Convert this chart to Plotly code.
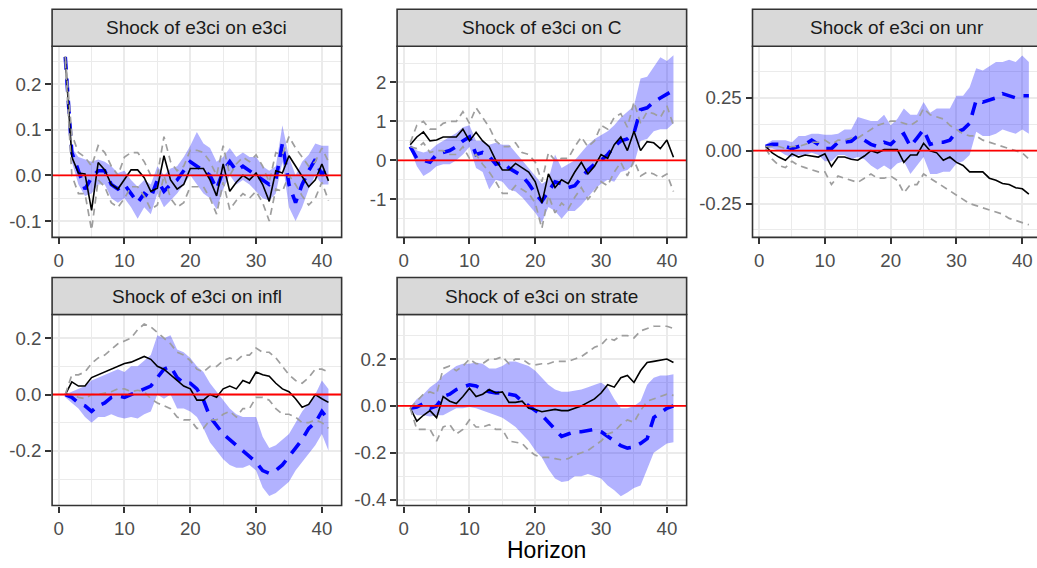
import plotly.graph_objects as go

W, H = 1037, 568
horizon = list(range(1, 42))

titles = ["Shock of e3ci on e3ci", "Shock of e3ci on C", "Shock of e3ci on unr",
          "Shock of e3ci on infl", "Shock of e3ci on strate"]

# ---- panel 1 : e3ci ----
e3ci_point = [0.26,0.04,0.005,0.003,-0.077,0.028,0.012,-0.02,-0.03,-0.01,0.012,0.012,-0.005,-0.035,-0.028,0.043,-0.01,-0.03,-0.02,0.015,0.015,0.015,-0.01,-0.045,0.025,-0.035,-0.015,0.0,-0.01,0.005,-0.02,-0.057,0.01,0.005,0.043,0.02,-0.003,-0.025,-0.01,0.025,-0.012]
e3ci_mean = [0.26,0.05,0.01,-0.03,-0.005,0.01,0.01,-0.02,-0.03,-0.02,-0.04,-0.06,-0.04,-0.05,-0.01,-0.035,-0.02,-0.01,0.01,0.03,0.02,0.01,0.0,-0.03,0.01,0.03,0.01,0.02,0.01,0.0,-0.01,-0.02,-0.01,0.07,-0.02,-0.06,-0.02,0.01,0.035,0.0,0.025]
e3ci_hi = [0.26,0.06,0.04,0.035,0.03,0.035,0.03,0.02,0.005,0.01,-0.01,-0.025,-0.01,-0.02,0.02,0.0,0.015,0.02,0.04,0.065,0.095,0.07,0.06,0.03,0.04,0.06,0.04,0.05,0.04,0.04,0.02,0.01,0.02,0.11,0.04,0.0,0.03,0.045,0.07,0.065,0.065]
e3ci_lo = [0.25,0.03,-0.02,-0.045,-0.04,-0.02,-0.02,-0.05,-0.06,-0.05,-0.07,-0.095,-0.07,-0.085,-0.04,-0.07,-0.055,-0.04,-0.02,0.0,-0.02,-0.04,-0.05,-0.075,-0.03,0.0,-0.02,-0.01,-0.02,-0.035,-0.05,-0.055,-0.04,0.03,-0.07,-0.1,-0.07,-0.03,0.0,-0.02,-0.02]
e3ci_ghi = [0.26,0.09,0.05,0.04,0.02,0.065,0.05,0.02,0.0,0.04,0.05,0.05,0.03,0.0,0.0,0.085,0.03,0.01,0.02,0.055,0.055,0.05,0.03,0.0,0.065,0.0,0.025,0.04,0.03,0.045,0.02,-0.015,0.05,0.045,0.085,0.06,0.04,0.02,0.03,0.06,0.03]
e3ci_glo = [0.25,0.0,-0.04,-0.04,-0.12,-0.01,-0.025,-0.06,-0.07,-0.05,-0.025,-0.025,-0.045,-0.075,-0.065,0.0,-0.05,-0.07,-0.06,-0.025,-0.025,-0.025,-0.05,-0.085,-0.015,-0.075,-0.055,-0.04,-0.05,-0.035,-0.06,-0.1,-0.03,-0.035,0.0,-0.02,-0.045,-0.065,-0.05,-0.015,-0.055]

# ---- panel 2 : C ----
C_point = [0.4,0.6,0.73,0.5,0.52,0.6,0.6,0.6,0.8,0.5,0.72,0.5,0.35,0.0,-0.25,-0.25,-0.08,-0.2,-0.3,-0.55,-1.1,-0.35,-0.7,-0.5,-0.6,-0.3,-0.05,-0.35,-0.15,0.15,0.05,0.4,0.6,0.25,0.75,0.25,0.48,0.45,0.3,0.52,0.08]
C_mean = [0.35,0.05,0.0,-0.05,0.15,0.2,0.25,0.35,0.5,0.6,0.15,0.2,0.1,-0.1,-0.05,-0.2,-0.3,-0.4,-0.6,-0.85,-1.05,-0.8,-0.55,-0.6,-0.7,-0.65,-0.45,-0.25,-0.1,0.0,0.15,0.35,0.5,0.55,0.7,1.3,1.35,1.5,1.6,1.7,1.8]
C_hi = [0.4,0.25,0.2,0.25,0.4,0.5,0.6,0.7,0.85,0.9,0.5,0.5,0.4,0.45,0.4,0.4,0.2,0.0,-0.2,-0.4,-0.6,-0.5,0.15,-0.2,-0.1,0.0,0.2,0.4,0.55,0.65,0.75,0.9,1.1,1.25,1.4,2.1,2.15,2.4,2.65,2.55,2.7]
C_lo = [0.3,-0.15,-0.4,-0.3,-0.15,-0.1,-0.1,0.0,0.15,0.35,-0.2,-0.3,-0.75,-0.5,-0.55,-0.75,-0.8,-0.95,-1.15,-1.35,-1.6,-1.2,-1.3,-1.5,-1.3,-1.3,-1.15,-0.95,-0.75,-0.6,-0.5,-0.55,-0.3,-0.25,-0.1,0.5,0.55,0.75,0.8,0.8,0.95]
C_ghi = [0.45,0.9,1.0,0.8,0.8,0.95,1.0,1.0,1.25,0.95,1.35,1.1,0.85,0.5,0.35,0.35,0.45,0.2,0.15,-0.05,-0.55,0.2,0.0,0.05,0.05,0.35,0.6,0.35,0.5,0.9,0.8,1.1,1.2,0.85,1.5,0.95,1.25,1.2,1.1,1.4,0.9]
C_glo = [0.35,0.3,0.45,0.2,0.25,0.25,0.15,0.15,0.35,0.05,0.15,-0.1,-0.3,-0.55,-0.85,-0.85,-0.65,-0.75,-0.85,-1.1,-1.75,-0.9,-1.35,-1.1,-1.25,-0.95,-0.7,-1.0,-0.8,-0.55,-0.65,-0.3,-0.05,-0.4,0.0,-0.4,-0.3,-0.35,-0.45,-0.35,-0.8]

# ---- panel 3 : unr ----
unr_point = [0.02,-0.01,-0.03,-0.045,-0.015,-0.03,-0.02,-0.025,-0.03,-0.015,-0.075,-0.03,-0.03,-0.04,-0.045,-0.025,0.0,-0.01,0.005,0.005,0.005,-0.055,-0.02,-0.02,0.035,0.0,-0.01,-0.045,-0.03,-0.055,-0.07,-0.1,-0.1,-0.1,-0.13,-0.14,-0.155,-0.16,-0.175,-0.18,-0.205]
unr_mean = [0.02,0.03,0.03,0.02,0.01,0.02,0.03,0.05,0.03,0.01,0.01,0.04,0.04,0.045,0.07,0.05,0.03,0.02,0.04,0.03,0.06,0.08,0.02,0.06,0.1,0.03,0.04,0.04,0.05,0.09,0.1,0.13,0.24,0.23,0.24,0.25,0.27,0.26,0.25,0.26,0.26]
unr_hi = [0.03,0.05,0.05,0.05,0.04,0.07,0.07,0.08,0.08,0.075,0.075,0.08,0.1,0.1,0.16,0.15,0.14,0.14,0.17,0.12,0.15,0.2,0.17,0.17,0.23,0.18,0.2,0.2,0.2,0.26,0.26,0.3,0.39,0.38,0.4,0.42,0.42,0.43,0.42,0.45,0.42]
unr_lo = [0.01,0.01,0.0,-0.02,-0.03,-0.02,-0.02,-0.01,-0.02,-0.05,-0.05,-0.02,-0.02,-0.04,-0.03,-0.04,-0.07,-0.09,-0.07,-0.09,-0.06,-0.05,-0.11,-0.07,-0.03,-0.11,-0.11,-0.1,-0.1,-0.06,-0.05,-0.02,0.09,0.07,0.07,0.08,0.1,0.09,0.08,0.1,0.08]
unr_ghi = [0.02,0.02,0.02,0.01,0.02,0.02,0.03,0.04,0.04,0.05,0.03,0.05,0.05,0.06,0.06,0.08,0.1,0.12,0.13,0.14,0.14,0.13,0.12,0.14,0.2,0.17,0.16,0.15,0.12,0.1,0.08,0.07,0.07,0.05,0.04,0.03,0.02,0.01,0.0,-0.01,-0.04]
unr_glo = [0.01,-0.04,-0.07,-0.08,-0.05,-0.07,-0.08,-0.09,-0.1,-0.1,-0.16,-0.12,-0.13,-0.14,-0.15,-0.13,-0.11,-0.13,-0.13,-0.12,-0.14,-0.2,-0.16,-0.16,-0.11,-0.13,-0.15,-0.17,-0.19,-0.21,-0.23,-0.25,-0.26,-0.27,-0.28,-0.29,-0.3,-0.32,-0.33,-0.34,-0.35]

# ---- panel 4 : infl ----
infl_point = [0.0,0.045,0.03,0.03,0.06,0.07,0.08,0.09,0.1,0.11,0.115,0.125,0.135,0.125,0.1,0.09,0.07,0.05,0.03,0.02,-0.02,-0.02,0.0,-0.01,0.02,0.03,0.02,0.05,0.04,0.08,0.07,0.065,0.04,0.02,0.01,-0.015,-0.045,-0.035,0.0,-0.015,-0.028]
infl_mean = [0.0,-0.01,-0.03,-0.04,-0.06,-0.04,-0.03,-0.01,-0.005,-0.01,0.0,0.01,0.02,0.03,0.06,0.09,0.1,0.06,0.04,0.04,0.02,-0.02,-0.08,-0.11,-0.14,-0.16,-0.18,-0.2,-0.22,-0.24,-0.27,-0.28,-0.27,-0.25,-0.22,-0.19,-0.16,-0.12,-0.1,-0.06,-0.09]
infl_hi = [0.0,0.01,0.02,0.03,0.05,0.06,0.07,0.08,0.09,0.08,0.1,0.1,0.12,0.14,0.21,0.2,0.21,0.16,0.15,0.13,0.1,0.08,0.04,0.01,-0.02,-0.05,-0.07,-0.08,-0.08,-0.08,-0.15,-0.19,-0.18,-0.16,-0.14,-0.1,-0.06,-0.03,0.0,0.05,0.02]
infl_lo = [-0.01,-0.03,-0.05,-0.08,-0.1,-0.08,-0.08,-0.07,-0.08,-0.085,-0.08,-0.085,-0.07,-0.06,0.0,-0.015,0.0,-0.05,-0.05,-0.06,-0.08,-0.12,-0.17,-0.2,-0.23,-0.25,-0.26,-0.26,-0.25,-0.27,-0.33,-0.36,-0.35,-0.33,-0.31,-0.27,-0.24,-0.21,-0.18,-0.14,-0.2]
infl_ghi = [0.0,0.07,0.07,0.08,0.11,0.13,0.14,0.16,0.18,0.19,0.2,0.23,0.25,0.24,0.22,0.2,0.18,0.15,0.14,0.12,0.09,0.08,0.1,0.1,0.12,0.13,0.12,0.14,0.14,0.165,0.15,0.15,0.13,0.1,0.07,0.05,0.04,0.06,0.09,0.09,0.08]
infl_glo = [0.0,0.0,-0.01,-0.015,0.0,0.0,0.005,0.01,0.02,0.02,0.01,0.015,0.01,-0.015,-0.03,-0.04,-0.05,-0.08,-0.09,-0.09,-0.12,-0.12,-0.09,-0.09,-0.07,-0.06,-0.08,-0.05,-0.05,-0.01,-0.01,-0.02,-0.05,-0.07,-0.07,-0.08,-0.1,-0.1,-0.09,-0.1,-0.12]

# ---- panel 5 : strate ----
strate_point = [-0.01,-0.065,-0.04,-0.02,-0.05,0.04,0.02,0.01,0.04,0.075,0.04,0.05,0.07,0.055,0.06,0.015,0.015,0.02,-0.01,-0.015,-0.025,-0.02,-0.015,-0.02,-0.02,-0.01,0.0,0.015,0.03,0.055,0.09,0.08,0.12,0.13,0.1,0.15,0.185,0.19,0.195,0.2,0.185]
strate_mean = [-0.01,-0.005,0.01,-0.01,0.0,0.04,0.05,0.07,0.08,0.09,0.085,0.07,0.06,0.055,0.055,0.05,0.045,0.02,0.0,-0.02,-0.04,-0.07,-0.1,-0.13,-0.12,-0.11,-0.11,-0.105,-0.1,-0.11,-0.13,-0.15,-0.17,-0.18,-0.175,-0.16,-0.14,-0.05,-0.03,-0.01,0.0]
strate_hi = [-0.005,0.03,0.05,0.08,0.1,0.13,0.15,0.17,0.18,0.18,0.185,0.18,0.16,0.16,0.17,0.19,0.19,0.18,0.17,0.15,0.12,0.09,0.07,0.06,0.06,0.065,0.07,0.08,0.09,0.1,0.08,0.03,-0.01,-0.01,0.0,0.02,0.09,0.12,0.13,0.13,0.135]
strate_lo = [-0.02,-0.04,-0.04,-0.045,-0.04,-0.04,-0.025,-0.01,-0.01,-0.005,-0.01,-0.02,-0.03,-0.04,-0.05,-0.07,-0.09,-0.12,-0.15,-0.19,-0.22,-0.27,-0.31,-0.325,-0.32,-0.3,-0.3,-0.29,-0.3,-0.31,-0.34,-0.36,-0.385,-0.37,-0.35,-0.34,-0.27,-0.2,-0.18,-0.16,-0.155]
strate_ghi = [-0.01,0.02,0.05,0.06,0.05,0.16,0.17,0.15,0.17,0.2,0.18,0.18,0.2,0.2,0.21,0.18,0.2,0.2,0.18,0.175,0.18,0.18,0.19,0.19,0.19,0.2,0.21,0.23,0.25,0.26,0.29,0.28,0.3,0.3,0.29,0.32,0.33,0.34,0.34,0.34,0.33]
strate_glo = [-0.01,-0.1,-0.1,-0.1,-0.15,-0.09,-0.08,-0.12,-0.1,-0.06,-0.09,-0.09,-0.08,-0.1,-0.1,-0.15,-0.155,-0.16,-0.19,-0.21,-0.22,-0.22,-0.225,-0.23,-0.225,-0.21,-0.2,-0.19,-0.17,-0.15,-0.12,-0.11,-0.08,-0.06,-0.07,-0.02,0.02,0.03,0.04,0.05,0.045]

# tick labels
x_tickvals = [0, 10, 20, 30, 40]
x_ticktext = ["0", "10", "20", "30", "40"]
x_minor = [5, 15, 25, 35]
y_ticks = [
    ([-0.1, 0.0, 0.1, 0.2], ["-0.1", "0.0", "0.1", "0.2"], [-0.05, 0.05, 0.15, 0.25]),
    ([-1, 0, 1, 2], ["-1", "0", "1", "2"], [-1.5, -0.5, 0.5, 1.5, 2.5]),
    ([-0.25, 0.0, 0.25], ["-0.25", "0.00", "0.25"], [-0.375, -0.125, 0.125, 0.375]),
    ([-0.2, 0.0, 0.2], ["-0.2", "0.0", "0.2"], [-0.3, -0.1, 0.1]),
    ([-0.4, -0.2, 0.0, 0.2], ["-0.4", "-0.2", "0.0", "0.2"], [-0.3, -0.1, 0.1, 0.3]),
]

panels = [
    (e3ci_point, e3ci_mean, e3ci_lo, e3ci_hi, e3ci_glo, e3ci_ghi),
    (C_point, C_mean, C_lo, C_hi, C_glo, C_ghi),
    (unr_point, unr_mean, unr_lo, unr_hi, unr_glo, unr_ghi),
    (infl_point, infl_mean, infl_lo, infl_hi, infl_glo, infl_ghi),
    (strate_point, strate_mean, strate_lo, strate_hi, strate_glo, strate_ghi),
]

# layout geometry (pixels)
PX = 6.58  # px per horizon unit
col_left = [52.1, 397.1, 752.5]
rows = [(46.7, 239.5, 9.3), (317.3, 510.0, 280.0)]  # plot top, plot bottom, strip top
y_ranges = [(-0.136, 0.283), (-1.98, 2.93), (-0.41, 0.494), (-0.394, 0.284), (-0.425, 0.39)]
pos = [(0, 0), (0, 1), (0, 2), (1, 0), (1, 1)]

FONT = "Liberation Sans, Arial, sans-serif"
fig = go.Figure()
shapes = []
annotations = []
layout = {}

for i, (pt, mn, lo, hi, glo, ghi) in enumerate(panels):
    r, c = pos[i]
    n = "" if i == 0 else str(i + 1)
    xa, ya = "x" + n, "y" + n
    left = col_left[c]
    right = left + 44 * PX
    x1frac = min(right / W, 1.0)
    xmax = -1 + (x1frac * W - left) / PX
    top, bot, stop = rows[r]

    # ribbon
    fig.add_trace(go.Scatter(x=horizon + horizon[::-1], y=hi + lo[::-1], fill="toself",
                             fillcolor="rgba(0,0,255,0.3)", line=dict(width=0), mode="lines",
                             xaxis=xa, yaxis=ya, showlegend=False, hoverinfo="skip"))
    fig.add_trace(go.Scatter(x=horizon, y=mn, mode="lines",
                             line=dict(color="blue", width=3.6, dash="13px,9px"),
                             xaxis=xa, yaxis=ya, showlegend=False))
    fig.add_trace(go.Scatter(x=horizon, y=pt, mode="lines",
                             line=dict(color="black", width=1.6),
                             xaxis=xa, yaxis=ya, showlegend=False))
    for g in (glo, ghi):
        fig.add_trace(go.Scatter(x=horizon, y=g, mode="lines",
                                 line=dict(color="#9E9E9E", width=1.7, dash="7px,5px"),
                                 xaxis=xa, yaxis=ya, showlegend=False))

    tv, tt, mv = y_ticks[i]
    common = dict(showline=False, zeroline=False, ticks="outside", ticklen=6, tickwidth=1.6,
                  tickcolor="#333333", showgrid=True, gridcolor="#EBEBEB", gridwidth=1.8,
                  tickfont=dict(family=FONT, size=18.7, color="#4D4D4D"), tickmode="array")
    layout["xaxis" + n] = dict(common, domain=[left / W, x1frac], range=[-1, xmax], anchor=ya,
                               tickvals=x_tickvals, ticktext=x_ticktext,
                               minor=dict(tickmode="array", tickvals=x_minor, showgrid=True,
                                          gridcolor="#EBEBEB", gridwidth=0.9, ticks=""))
    layout["yaxis" + n] = dict(common, domain=[1 - bot / H, 1 - top / H], range=list(y_ranges[i]),
                               anchor=xa, tickvals=tv, ticktext=tt,
                               minor=dict(tickmode="array", tickvals=mv, showgrid=True,
                                          gridcolor="#EBEBEB", gridwidth=0.9, ticks=""))

    # red zero line
    shapes.append(dict(type="line", xref=xa + " domain", yref=ya, x0=0, x1=1, y0=0, y1=0,
                       line=dict(color="red", width=1.8), layer="above"))
    # panel border
    rx1 = right / W if right <= W else 1.01
    shapes.append(dict(type="rect", xref="paper", yref="paper", x0=left / W, x1=rx1,
                       y0=1 - bot / H, y1=1 - top / H, line=dict(color="#333333", width=1.6),
                       fillcolor="rgba(0,0,0,0)", layer="above"))
    # strip
    shapes.append(dict(type="rect", xref="paper", yref="paper", x0=left / W, x1=rx1,
                       y0=1 - top / H, y1=1 - stop / H, line=dict(color="#333333", width=1.6),
                       fillcolor="#D9D9D9", layer="above"))
    annotations.append(dict(text=titles[i], xref="paper", yref="paper",
                            x=(left + right) / 2 / W, y=1 - (top + stop) / 2 / H,
                            showarrow=False, xanchor="center", yanchor="middle",
                            font=dict(family=FONT, size=19, color="#1A1A1A")))

annotations.append(dict(text="Horizon", xref="paper", yref="paper", x=546.5 / W, y=1 - 555 / H,
                        showarrow=False, xanchor="center", yanchor="middle",
                        font=dict(family=FONT, size=23, color="black")))

fig.update_layout(width=W, height=H, margin=dict(l=0, r=0, t=0, b=0),
                  paper_bgcolor="white", plot_bgcolor="white",
                  shapes=shapes, annotations=annotations, **layout)
fig.write_html("out.html")
